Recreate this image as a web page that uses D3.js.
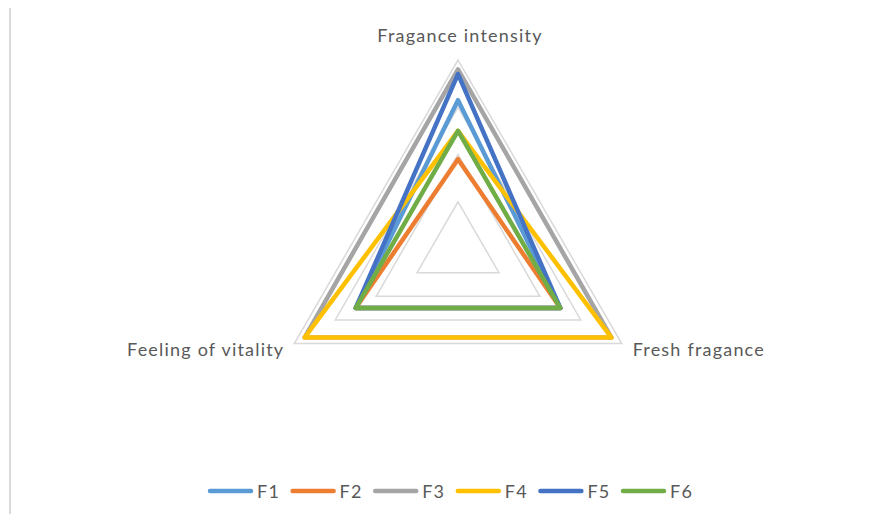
<!DOCTYPE html>
<html>
<head>
<meta charset="utf-8">
<script src="https://cdn.jsdelivr.net/npm/d3@7"></script>
<style>
  body { margin: 0; background: #fff; }
  svg { display: block; font-family: Lato, "Open Sans", sans-serif; }
</style>
</head>
<body>
<div id="chart"></div>
<script>
// Axes (clockwise from the top)
const axes = ['Fragance intensity', 'Fresh fragance', 'Feeling of vitality'];
const seriesNames = ['F1', 'F2', 'F3', 'F4', 'F5', 'F6'];
const seriesColors = ['#5B9BD5', '#ED7D31', '#A5A5A5', '#FFC000', '#4472C4', '#70AD47'];
// One value per axis
const F1 = [6.3, 5.0, 5.0];
const F2 = [3.8, 5.0, 5.0];
const F3 = [7.6, 7.5, 7.5];
const F4 = [5.0, 7.5, 7.5];
const F5 = [7.4, 5.0, 5.0];
const F6 = [5.0, 5.0, 5.0];
const seriesValues = [F1, F2, F3, F4, F5, F6];
const gridTicks = [2, 4, 6, 8];

const width = 890, height = 521;
const center = { x: 458, y: 249 };
const radius = 189;

const svg = d3.select('#chart').append('svg')
    .attr('width', width)
    .attr('height', height);

// Chart border (left edge only shows)
svg.append('line')
    .attr('x1', 10).attr('x2', 10)
    .attr('y1', 8).attr('y2', 514)
    .attr('stroke', '#d9d9d9')
    .attr('stroke-width', 2);

const g = svg.append('g')
    .attr('transform', `translate(${center.x}, ${center.y})`);

const r = d3.scaleLinear().domain([0, 8]).range([0, radius]);
const angle = i => i * 2 * Math.PI / axes.length;

const radial = d3.lineRadial()
    .angle((d, i) => angle(i))
    .radius(d => r(d))
    .curve(d3.curveLinearClosed);

// Grid rings
g.selectAll('.grid')
    .data(gridTicks)
    .enter()
    .append('path')
        .attr('class', 'grid')
        .attr('d', t => radial(axes.map(() => t)))
        .attr('fill', 'none')
        .attr('stroke', '#d9d9d9')
        .attr('stroke-width', 1.5);

// Series
g.selectAll('.series')
    .data(seriesValues)
    .enter()
    .append('path')
        .attr('class', 'series')
        .attr('d', d => radial(d))
        .attr('fill', 'none')
        .attr('stroke', (d, i) => seriesColors[i])
        .attr('stroke-width', 4.5)
        .attr('stroke-linejoin', 'round');

// Axis labels
const labelPos = [
    { dx: 2, dy: -18, anchor: 'middle' },
    { dx: 11, dy: 12, anchor: 'start' },
    { dx: -10, dy: 12, anchor: 'end' }
];
g.selectAll('.axis-label')
    .data(axes)
    .enter()
    .append('text')
        .attr('class', 'axis-label')
        .attr('x', (d, i) => Math.sin(angle(i)) * radius + labelPos[i].dx)
        .attr('y', (d, i) => -Math.cos(angle(i)) * radius + labelPos[i].dy)
        .attr('text-anchor', (d, i) => labelPos[i].anchor)
        .attr('fill', '#595959')
        .attr('font-size', 18)
        .attr('letter-spacing', 1.2)
        .text(d => d);

// Legend
const legend = svg.append('g')
    .attr('transform', 'translate(208, 491)');

const item = legend.selectAll('.legend-item')
    .data(seriesNames)
    .enter()
    .append('g')
        .attr('class', 'legend-item')
        .attr('transform', (d, i) => `translate(${i * 82.6}, 0)`);

item.append('line')
    .attr('x1', 2).attr('x2', 43)
    .attr('y1', 0).attr('y2', 0)
    .attr('stroke', (d, i) => seriesColors[i])
    .attr('stroke-width', 4.5)
    .attr('stroke-linecap', 'round');

item.append('text')
    .attr('x', 49)
    .attr('y', 6.5)
    .attr('fill', '#595959')
    .attr('font-size', 18)
    .attr('letter-spacing', 1.2)
    .text(d => d);
</script>
</body>
</html>
